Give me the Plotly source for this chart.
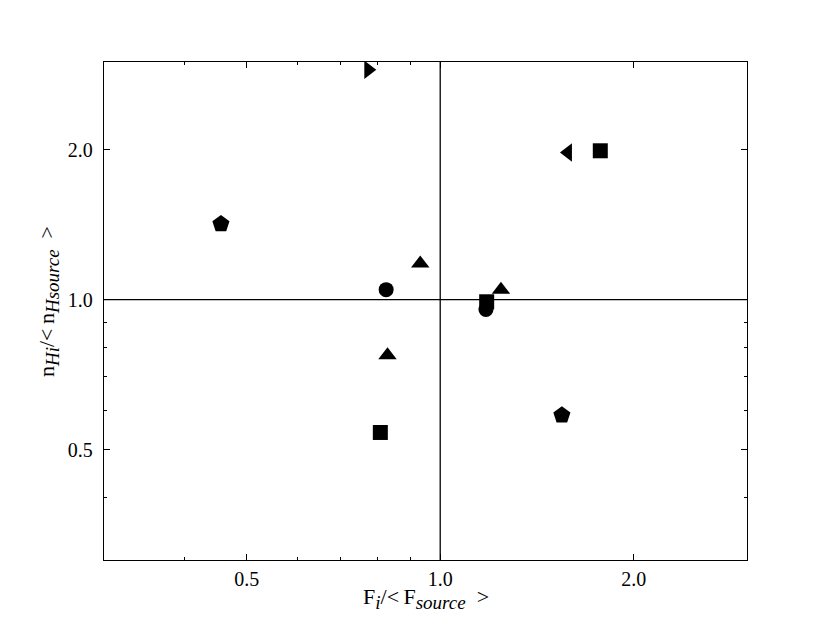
import plotly.graph_objects as go
import math

# Data (log-log axes)
circle_x = [0.824, 1.178]
circle_y = [1.047, 0.955]
square_x = [1.774, 1.181, 0.807]
square_y = [1.99, 0.99, 0.541]
tri_up_x = [0.931, 1.243, 0.828]
tri_up_y = [1.182, 1.047, 0.773]
pent_x = [0.456, 1.546]
pent_y = [1.419, 0.586]
tri_left_x = [1.580]
tri_left_y = [1.975]
tri_right_x = [0.773]
tri_right_y = [2.894]

x_range = [0.3, 3.0]
y_range = [0.3, 3.0]
ref_x = 1.0
ref_y = 1.0
major_ticks = [0.5, 1.0, 2.0]
major_labels = ["0.5", "1.0", "2.0"]
minor_ticks = [0.3, 0.4, 0.6, 0.7, 0.8, 0.9, 3.0]

FONT = "Liberation Serif"
SUB = "<sub><span style='font-size:19px'><i>{}</i></span></sub>"
x_title = "F" + SUB.format("i") + "/&lt;&#8201;F" + SUB.format("source") + "&#8194;&gt;"
y_title = "n" + SUB.format("Hi") + "/&lt;&#8201;n" + SUB.format("Hsource") + "&#8194;&gt;"

fig = go.Figure()

# reference lines
fig.add_trace(go.Scatter(x=[ref_x, ref_x], y=y_range, mode="lines",
                         line=dict(color="black", width=1.3), hoverinfo="skip", showlegend=False))
fig.add_trace(go.Scatter(x=x_range, y=[ref_y, ref_y], mode="lines",
                         line=dict(color="black", width=1.3), hoverinfo="skip", showlegend=False))

def add_pts(xs, ys, symbol, size):
    fig.add_trace(go.Scatter(x=xs, y=ys, mode="markers", showlegend=False,
                             marker=dict(symbol=symbol, size=size, color="black",
                                         line=dict(width=0))))

add_pts(circle_x, circle_y, "circle", 15)
add_pts(square_x, square_y, "square", 15)
add_pts(tri_up_x, tri_up_y, "triangle-up", 16)
add_pts(pent_x, pent_y, "pentagon", 18)
add_pts(tri_left_x, tri_left_y, "triangle-left", 16)
add_pts(tri_right_x, tri_right_y, "triangle-right", 16)

axis_common = dict(
    type="log",
    showgrid=False, zeroline=False,
    showline=True, linecolor="black", linewidth=1.3, mirror="allticks",
    ticks="inside", ticklen=6, tickwidth=1, tickcolor="black",
    tickfont=dict(family=FONT, size=20, color="black"),
    tickvals=major_ticks, ticktext=major_labels,
    minor=dict(tickvals=minor_ticks, ticks="inside", ticklen=3, tickwidth=1, tickcolor="black"),
)

fig.update_xaxes(**axis_common,
                 range=[math.log10(x_range[0]), math.log10(x_range[1])],
                 ticklabelstandoff=1)
fig.update_yaxes(**axis_common,
                 range=[math.log10(y_range[0]), math.log10(y_range[1])],
                 ticklabelstandoff=6)

fig.add_annotation(text=x_title, xref="paper", yref="paper", x=0.5, y=0,
                   xanchor="center", yanchor="middle", yshift=-38, showarrow=False,
                   font=dict(family=FONT, size=22, color="black"))
fig.add_annotation(text=y_title, xref="paper", yref="paper", x=0, y=0.5,
                   xanchor="center", yanchor="middle", xshift=-56, yshift=9,
                   textangle=-90, showarrow=False,
                   font=dict(family=FONT, size=22, color="black"))

fig.update_layout(width=822, height=615,
                  margin=dict(l=96, r=83, t=54, b=63),
                  paper_bgcolor="white", plot_bgcolor="white",
                  font=dict(family=FONT, color="black"))

fig.write_html("out.html")
